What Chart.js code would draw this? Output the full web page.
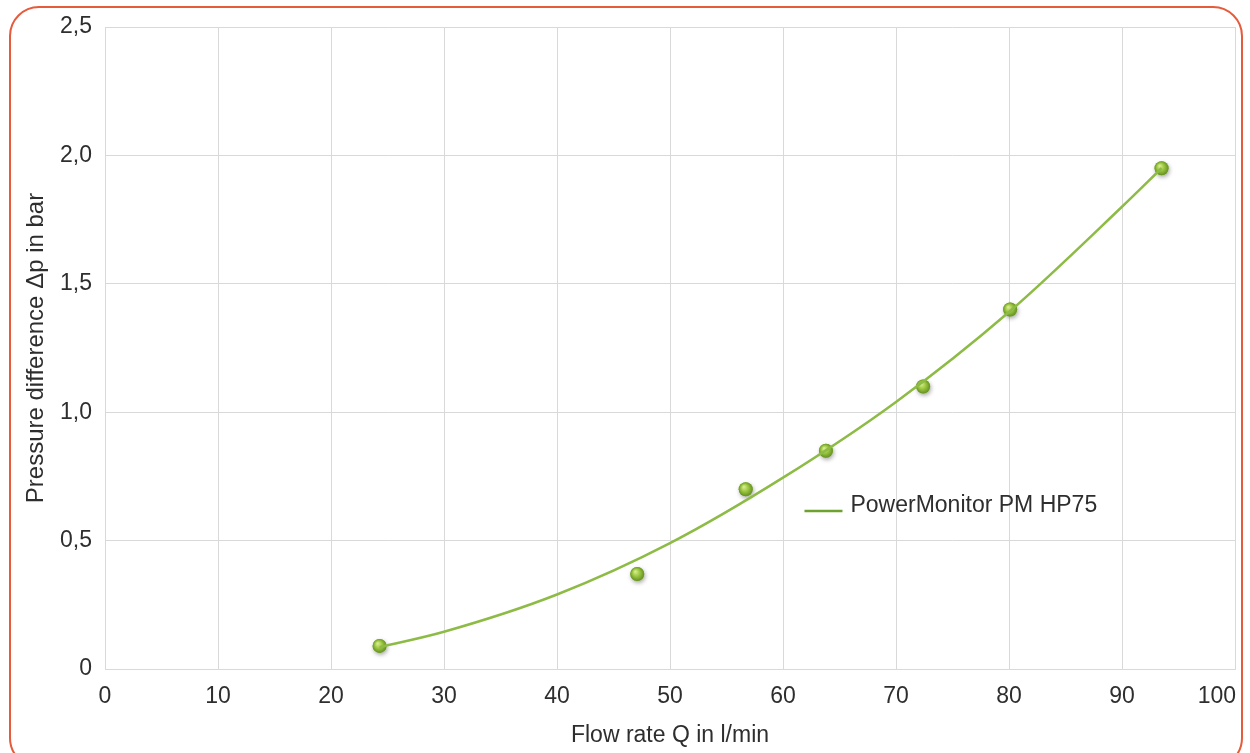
<!DOCTYPE html>
<html>
<head>
<meta charset="utf-8">
<script src="https://cdn.jsdelivr.net/npm/chart.js@4/dist/chart.umd.min.js"></script>
<style>
    html, body { margin: 0; padding: 0; background: #fff; overflow: hidden; }
    #wrap { position: relative; width: 1250px; height: 753px; }
    #frame {
        position: absolute; left: 9px; top: 6px; width: 1234px; height: 762px;
        border: 2px solid #e55b3b; border-radius: 30px; box-sizing: border-box;
    }
    #chart { position: absolute; left: 0; top: 0; }
</style>
</head>
<body>
<div id="wrap">
    <div id="frame"></div>
    <canvas id="chart" width="1250" height="753"></canvas>
</div>
<script>
// measured points
var flowQ = [24.3, 47.1, 56.7, 63.8, 72.4, 80.1, 93.5];
var pressureDp = [0.09, 0.37, 0.70, 0.85, 1.10, 1.40, 1.95];

// trend curve
var trendQ = [24.3, 30, 40, 50, 60, 70, 80, 90, 93.5];
var trendDp = [0.085, 0.145, 0.29, 0.49, 0.745, 1.04, 1.39, 1.80, 1.95];

var xTicks = [0, 10, 20, 30, 40, 50, 60, 70, 80, 90, 100];
var yTickLabels = ["0", "0,5", "1,0", "1,5", "2,0", "2,5"];
var seriesName = "PowerMonitor PM HP75";

var FONT = "'Liberation Sans', Arial, sans-serif";
var TXT = "#2e2e2e";

function pts(xs, ys) {
    return xs.map(function (x, i) { return { x: x, y: ys[i] }; });
}

var legendPlugin = {
    id: "insideLegend",
    afterDatasetsDraw: function (chart) {
        var c = chart.ctx;
        var xs = chart.scales.x, ys = chart.scales.y;
        var lx = xs.getPixelForValue(61.9), ly = ys.getPixelForValue(0.615);
        c.save();
        c.strokeStyle = "#6ea22e";
        c.lineWidth = 2.5;
        c.beginPath();
        c.moveTo(lx, ly);
        c.lineTo(lx + 38, ly);
        c.stroke();
        c.fillStyle = TXT;
        c.font = "23px " + FONT;
        c.textBaseline = "middle";
        c.fillText(seriesName, lx + 46, ly - 5);
        c.restore();
    }
};

// last x label sits inside the frame, right aligned to the last gridline
var lastLabelPlugin = {
    id: "lastLabel",
    beforeDraw: function (chart) {
        var s = chart.scales.x;
        var items = s.getLabelItems(chart.chartArea);
        var it = items[items.length - 1];
        if (!it || it._moved) return;
        it.options = Object.assign({}, it.options, {
            textAlign: "right",
            translation: [s.right + 1, it.options.translation[1]]
        });
        it._moved = true;
    }
};

// shaded balls on top of the scatter points
var ballPlugin = {
    id: "balls",
    beforeDatasetDraw: function (chart, args) {
        if (args.index !== 1) return;
        var c = chart.ctx;
        c.save();
        c.shadowColor = "rgba(0,0,0,0.35)";
        c.shadowBlur = 4;
        c.shadowOffsetX = 1;
        c.shadowOffsetY = 2;
    },
    afterDatasetDraw: function (chart, args) {
        if (args.index !== 1) return;
        var c = chart.ctx;
        c.restore();
        args.meta.data.forEach(function (el) {
            var g = c.createRadialGradient(el.x - 2, el.y - 2.5, 0.5, el.x, el.y, 7.5);
            g.addColorStop(0, "#d6ea8f");
            g.addColorStop(0.45, "#9cc840");
            g.addColorStop(1, "#5f8a22");
            c.beginPath();
            c.arc(el.x, el.y, 7, 0, Math.PI * 2);
            c.fillStyle = g;
            c.fill();
        });
    }
};

var ctx = document.getElementById("chart").getContext("2d");
window.myChart = new Chart(ctx, {
    type: "scatter",
    data: {
        datasets: [{
            label: seriesName,
            type: "line",
            data: pts(trendQ, trendDp),
            borderColor: "#8dbb46",
            borderWidth: 2.5,
            pointRadius: 0,
            cubicInterpolationMode: "monotone",
            fill: false
        }, {
            label: "points",
            data: pts(flowQ, pressureDp),
            pointRadius: 7,
            pointBackgroundColor: "#93c23c",
            pointBorderWidth: 0
        }]
    },
    options: {
        responsive: false,
        animation: false,
        layout: { padding: { top: 27, right: 15, left: 0, bottom: 0 } },
        plugins: {
            legend: { display: false },
            tooltip: { enabled: false }
        },
        scales: {
            x: {
                type: "linear",
                min: 0,
                max: 100,
                afterBuildTicks: function (s) {
                    s.ticks = xTicks.map(function (v) { return { value: v }; });
                },
                afterFit: function (s) {
                    s.height = 84;
                    s.paddingRight = 0;
                    s.paddingLeft = 0;
                },
                grid: { color: "#d9d9d9", lineWidth: 1, drawTicks: false },
                border: { color: "#d9d9d9" },
                ticks: { color: TXT, font: { family: FONT, size: 23 }, padding: 14, maxRotation: 0 },
                title: {
                    display: true,
                    text: "Flow rate Q in l/min",
                    color: TXT,
                    font: { family: FONT, size: 23 },
                    padding: { top: 6 }
                }
            },
            y: {
                type: "linear",
                min: 0,
                max: 2.5,
                ticks: {
                    stepSize: 0.5,
                    color: TXT,
                    font: { family: FONT, size: 23 },
                    padding: 13,
                    callback: function (v) { return yTickLabels[Math.round(v * 2)]; }
                },
                afterFit: function (s) {
                    s.width = 105;
                    s.paddingTop = 0;
                    s.paddingBottom = 0;
                },
                grid: { color: "#d9d9d9", lineWidth: 1, drawTicks: false },
                border: { color: "#d9d9d9" },
                title: {
                    display: true,
                    text: "Pressure difference \u0394p in bar",
                    color: TXT,
                    font: { family: FONT, size: 24 },
                    padding: { top: 22, bottom: 0 }
                }
            }
        }
    },
    plugins: [legendPlugin, ballPlugin, lastLabelPlugin]
});
</script>
</body>
</html>
